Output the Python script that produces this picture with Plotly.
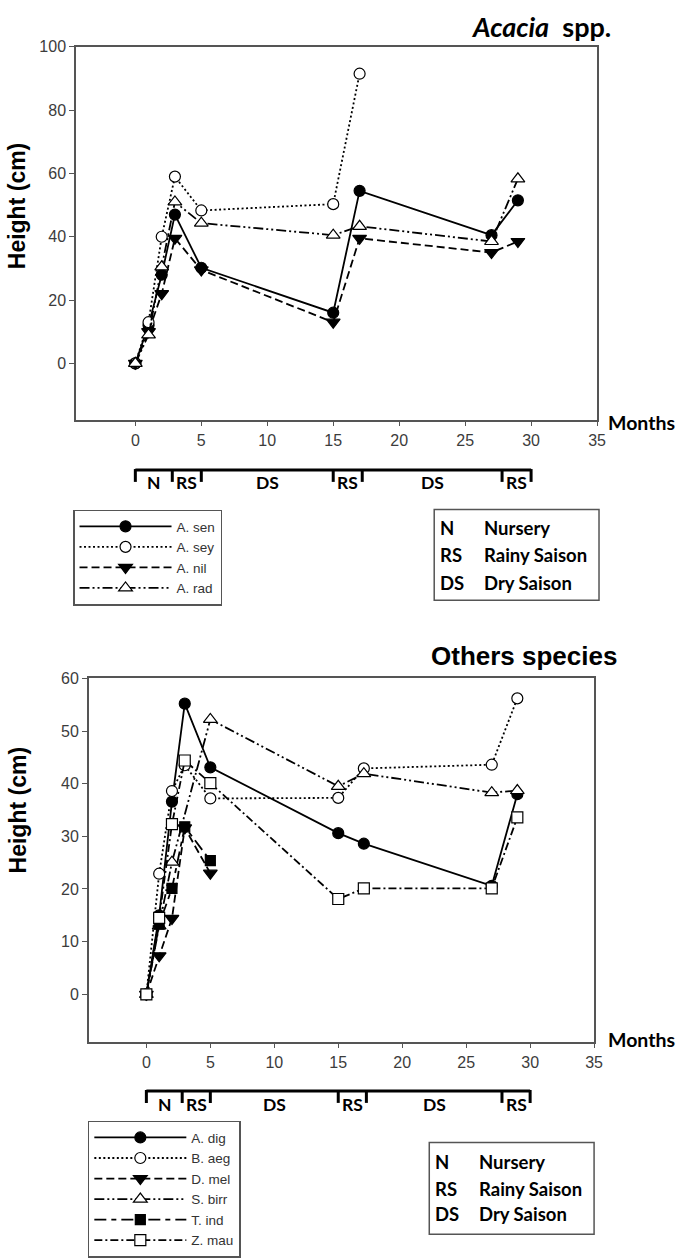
import plotly.graph_objects as go

W, H = 684, 1258

# ---------------- data ----------------
acacia_names = ["A. sen", "A. sey", "A. nil", "A. rad"]
a_sen_x = [0, 1, 2, 3, 5, 15, 17, 27, 29]
a_sen_y = [0, 12, 28, 47, 30.2, 16, 54.5, 40.5, 51.5]
a_sey_x = [0, 1, 2, 3, 5, 15, 17]
a_sey_y = [0, 13, 40, 59, 48.3, 50.3, 91.5]
a_nil_x = [0, 1, 2, 3, 5, 15, 17, 27, 29]
a_nil_y = [0, 10, 22, 39.5, 29.5, 13, 39.5, 35, 38.5]
a_rad_x = [0, 1, 2, 3, 5, 15, 17, 27, 29]
a_rad_y = [0, 9, 30.5, 51, 44.3, 40.5, 43.3, 38.5, 58.3]

other_names = ["A. dig", "B. aeg", "D. mel", "S. birr", "T. ind", "Z. mau"]
a_dig_x = [0, 1, 2, 3, 5, 15, 17, 27, 29]
a_dig_y = [0, 15, 36.6, 55.2, 43.1, 30.6, 28.6, 20.6, 38]
b_aeg_x = [0, 1, 2, 3, 5, 15, 17, 27, 29]
b_aeg_y = [0, 22.9, 38.6, 43.5, 37.2, 37.3, 42.9, 43.6, 56.2]
d_mel_x = [0, 1, 2, 3, 5]
d_mel_y = [0, 7.3, 14.4, 31.6, 23]
s_bir_x = [0, 1, 2, 5, 15, 17, 27, 29]
s_bir_y = [0, 13, 25.1, 52.2, 39.5, 41.9, 38.3, 38.7]
t_ind_x = [0, 1, 2, 3, 5]
t_ind_y = [0, 13.3, 20.1, 31.8, 25.4]
z_mau_x = [0, 1, 2, 3, 5, 15, 17, 27, 29]
z_mau_y = [0, 14.5, 32.3, 44.4, 40.1, 18.1, 20.1, 20.1, 33.6]

x_ticks = [0, 5, 10, 15, 20, 25, 30, 35]
y_ticks_top = [0, 20, 40, 60, 80, 100]
y_ticks_bottom = [0, 10, 20, 30, 40, 50, 60]

season_bounds = [0, 2.8, 5, 15, 17.2, 27.8, 30]
season_labels = ["N", "RS", "DS", "RS", "DS", "RS"]
key_abbr = ["N", "RS", "DS"]
key_desc = ["Nursery", "Rainy Saison", "Dry Saison"]

# ---------------- helpers (page pixel -> paper) ----------------
def py(p):
    return 1 - p / H

def px(p):
    return p / W

AX_FONT = "Liberation Sans, Arial, sans-serif"
CAL_FONT = "Lato, Carlito, Calibri, sans-serif"

fig = go.Figure()

def add_series(x, y, name, dash, symbol, filled, xa, ya, legend, width=1.8, size=11):
    fig.add_trace(go.Scatter(
        x=x, y=y, name=name, mode="lines+markers",
        xaxis=xa, yaxis=ya, legend=legend,
        line=dict(color="black", width=width, dash=dash),
        marker=dict(symbol=symbol, size=size,
                    color="black" if filled else "white",
                    line=dict(color="black", width=1.2)),
    ))

DOT = "2px,2.5px"
DASH = "8px,4px"
DDOT = "10px,3px,2px,3px,2px,3px"
LDASH = "12px,5px,5px,5px"
DDASH = "8px,3px,2px,3px"

# top chart
add_series(a_sen_x, a_sen_y, acacia_names[0], "solid", "circle", True, "x", "y", "legend")
add_series(a_sey_x, a_sey_y, acacia_names[1], DOT, "circle", False, "x", "y", "legend")
add_series(a_nil_x, a_nil_y, acacia_names[2], DASH, "triangle-down", True, "x", "y", "legend", size=12)
add_series(a_rad_x, a_rad_y, acacia_names[3], DDOT, "triangle-up", False, "x", "y", "legend", size=12)

# bottom chart
add_series(a_dig_x, a_dig_y, other_names[0], "solid", "circle", True, "x2", "y2", "legend2")
add_series(b_aeg_x, b_aeg_y, other_names[1], DOT, "circle", False, "x2", "y2", "legend2")
add_series(d_mel_x, d_mel_y, other_names[2], DASH, "triangle-down", True, "x2", "y2", "legend2", size=12)
add_series(s_bir_x, s_bir_y, other_names[3], DDOT, "triangle-up", False, "x2", "y2", "legend2", size=12)
add_series(t_ind_x, t_ind_y, other_names[4], LDASH, "square", True, "x2", "y2", "legend2", size=10)
add_series(z_mau_x, z_mau_y, other_names[5], DDASH, "square", False, "x2", "y2", "legend2", size=11)

axis_common = dict(
    showline=True, mirror=True, linecolor="#555555", linewidth=1.5,
    ticks="outside", ticklen=5, tickcolor="#555555", tickwidth=1,
    showgrid=False, zeroline=False,
    tickfont=dict(family=AX_FONT, size=16, color="#3c3c3c"),
)

legend_common = dict(
    xanchor="left", yanchor="top",
    bordercolor="#555555", borderwidth=1.5, bgcolor="white",
    font=dict(family=AX_FONT, size=13.5, color="#333"),
    itemwidth=92, tracegroupgap=0, traceorder="normal",
)

fig.update_layout(
    width=W, height=H, autosize=False,
    margin=dict(l=0, r=0, t=0, b=0),
    paper_bgcolor="white", plot_bgcolor="white",
    xaxis=dict(domain=[px(77), px(605)], range=[-4.5, 35], tickvals=x_ticks,
               anchor="y", **axis_common),
    yaxis=dict(domain=[py(417), py(39.3)], range=[-17.8, 100], tickvals=y_ticks_top,
               anchor="x", **axis_common),
    xaxis2=dict(domain=[px(90), px(602)], range=[-4.5, 35], tickvals=x_ticks,
                anchor="y2", **axis_common),
    yaxis2=dict(domain=[py(1047), py(679)], range=[-9, 60], tickvals=y_ticks_bottom,
                anchor="x2", **axis_common),
    legend=dict(x=px(74), y=py(508), **legend_common),
    legend2=dict(x=px(89), y=py(1127), **legend_common),
    showlegend=True,
)

shapes = []
annotations = []

def season_bar(xref, bar_y, tick_y, label_y):
    shapes.append(dict(type="line", xref=xref, yref="paper",
                       x0=season_bounds[0], x1=season_bounds[-1],
                       y0=py(bar_y), y1=py(bar_y),
                       line=dict(color="black", width=3)))
    for b in season_bounds:
        shapes.append(dict(type="line", xref=xref, yref="paper",
                           x0=b, x1=b, y0=py(bar_y - 1), y1=py(tick_y),
                           line=dict(color="black", width=3)))
    for i, lab in enumerate(season_labels):
        mid = (season_bounds[i] + season_bounds[i + 1]) / 2
        annotations.append(dict(xref=xref, yref="paper", x=mid, y=py(label_y),
                                text="<b>%s</b>" % lab, showarrow=False,
                                xanchor="center", yanchor="middle",
                                font=dict(family=CAL_FONT, size=17.5, color="black")))

season_bar("x", 468, 480, 481)
season_bar("x2", 1097, 1109, 1111)

def key_box(x0, y0, x1, y1, c1, c2, rows):
    shapes.append(dict(type="rect", xref="paper", yref="paper",
                       x0=px(x0), x1=px(x1), y0=py(y1), y1=py(y0),
                       line=dict(color="#555555", width=1.5), fillcolor="white",
                       layer="below"))
    for a, d, ry in zip(key_abbr, key_desc, rows):
        annotations.append(dict(xref="paper", yref="paper", x=px(c1), y=py(ry),
                                text="<b>%s</b>" % a, showarrow=False,
                                xanchor="left", yanchor="middle",
                                font=dict(family=CAL_FONT, size=18.5, color="black")))
        annotations.append(dict(xref="paper", yref="paper", x=px(c2), y=py(ry),
                                text="<b>%s</b>" % d, showarrow=False,
                                xanchor="left", yanchor="middle",
                                font=dict(family=CAL_FONT, size=18.5, color="black")))

key_box(440, 508, 607, 600, 444, 488, [527, 554, 582])
key_box(435, 1149, 602, 1242, 439, 483, [1169, 1196, 1222])

# titles / axis labels
annotations += [
    dict(xref="paper", yref="paper", x=px(548), y=py(19), text="<b><i>Acacia</i>  spp.</b>",
         showarrow=False, xanchor="center", yanchor="middle",
         font=dict(family=CAL_FONT, size=27, color="black")),
    dict(xref="paper", yref="paper", x=px(531), y=py(656), text="<b>Others species</b>",
         showarrow=False, xanchor="center", yanchor="middle",
         font=dict(family=AX_FONT, size=26, color="black")),
    dict(xref="paper", yref="paper", x=px(614), y=py(420), text="<b>Months</b>",
         showarrow=False, xanchor="left", yanchor="middle",
         font=dict(family=CAL_FONT, size=19.5, color="black")),
    dict(xref="paper", yref="paper", x=px(614), y=py(1045), text="<b>Months</b>",
         showarrow=False, xanchor="left", yanchor="middle",
         font=dict(family=CAL_FONT, size=19.5, color="black")),
    dict(xref="paper", yref="paper", x=px(18), y=py(200), text="<b>Height (cm)</b>",
         showarrow=False, textangle=-90, xanchor="center", yanchor="middle",
         font=dict(family=AX_FONT, size=23, color="black")),
    dict(xref="paper", yref="paper", x=px(18), y=py(812), text="<b>Height (cm)</b>",
         showarrow=False, textangle=-90, xanchor="center", yanchor="middle",
         font=dict(family=AX_FONT, size=23, color="black")),
]

fig.update_layout(shapes=shapes, annotations=annotations)
# remove the browser's default 8px body margin so page pixels equal figure pixels
fig.write_html("out.html", config={"displayModeBar": False},
               post_script="document.body.style.margin='0px';")
